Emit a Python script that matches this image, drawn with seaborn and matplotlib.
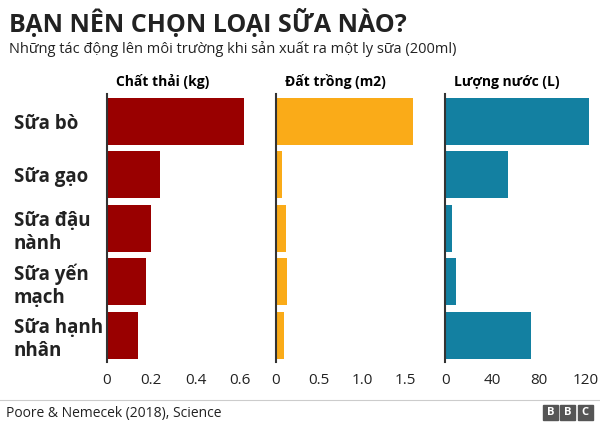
import matplotlib
matplotlib.use("Agg")
import matplotlib.pyplot as plt
import seaborn as sns
import pandas as pd

categories = ["Sữa bò", "Sữa gạo", "Sữa đậu\nnành", "Sữa yến\nmạch", "Sữa hạnh\nnhân"]
emissions = [0.62, 0.24, 0.20, 0.175, 0.14]
land = [1.59, 0.07, 0.12, 0.13, 0.09]
water = [123.5, 53.5, 6, 9.5, 73.5]
panel_titles = ["Chất thải (kg)", "Đất trồng (m2)", "Lượng nước (L)"]
colors = ["#990000", "#FAAB18", "#1380A1"]
ticks = [[0, 0.2, 0.4, 0.6], [0, 0.5, 1.0, 1.5], [0, 40, 80, 120]]
tick_labels = [["0", "0.2", "0.4", "0.6"], ["0", "0.5", "1.0", "1.5"], ["0", "40", "80", "120"]]
xlims = [(0, 0.69), (0, 1.78), (0, 131)]

plt.rcParams["font.family"] = "Open Sans"
fig = plt.figure(figsize=(6, 4.25), dpi=100)
lefts = [0.178, 0.460, 0.742]
width = 0.255
for i, vals in enumerate([emissions, land, water]):
    ax = fig.add_axes([lefts[i], 0.148, width, 0.63])
    df = pd.DataFrame({"cat": categories, "v": vals})
    sns.barplot(data=df, x="v", y="cat", color=colors[i], ax=ax, width=0.88, saturation=1)
    ax.set_xlim(*xlims[i])
    ax.set_xticks(ticks[i])
    ax.set_xticklabels(tick_labels[i], fontsize=11, color="#222222")
    ax.set_xlabel(""); ax.set_ylabel("")
    for s in ["top", "right", "bottom"]:
        ax.spines[s].set_visible(False)
    ax.spines["left"].set_color("#333333")
    ax.spines["left"].set_linewidth(1.5)
    ax.tick_params(axis="x", length=0, pad=8)
    ax.tick_params(axis="y", length=0)
    ax.set_title(panel_titles[i], fontsize=10, fontweight="bold", loc="left", x=0.06, pad=6)
    if i == 0:
        ax.set_yticks(range(len(categories)))
        ax.set_yticklabels(categories, fontsize=13.5, fontweight="bold", ha="left", color="#222222")
        ax.tick_params(axis="y", pad=67)
    else:
        ax.set_yticklabels([])

fig.text(0.015, 0.945, "BẠN NÊN CHỌN LOẠI SỮA NÀO?", fontsize=18, fontweight="bold", color="#222222", va="center")
fig.text(0.015, 0.885, "Những tác động lên môi trường khi sản xuất ra một ly sữa (200ml)", fontsize=10.5, color="#222222", va="center")
fig.add_artist(plt.Line2D([0.0, 1.0], [0.058, 0.058], transform=fig.transFigure, color="#cccccc", lw=0.8))
fig.text(0.01, 0.028, "Poore & Nemecek (2018), Science", fontsize=10, color="#222222", va="center")
for k, letter in enumerate("BBC"):
    x = 0.905 + k * 0.029
    fig.add_artist(plt.Rectangle((x, 0.012), 0.025, 0.035, transform=fig.transFigure, color="#555555"))
    fig.text(x + 0.0125, 0.029, letter, fontsize=8, fontweight="bold", color="white", ha="center", va="center")
fig.savefig("out.png", dpi=100)
